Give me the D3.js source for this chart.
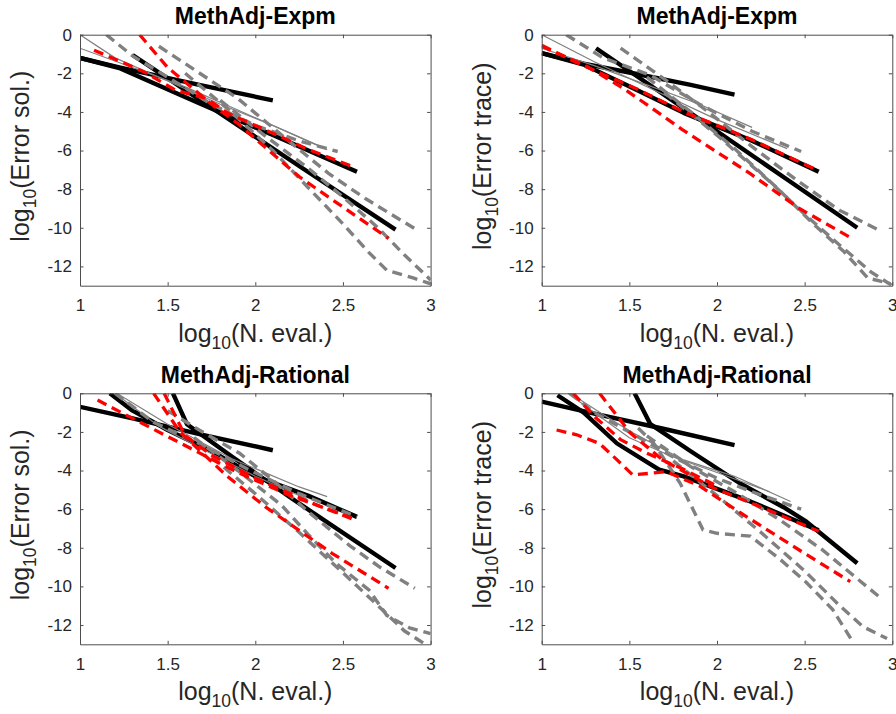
<!DOCTYPE html>
<html>
<head>
<meta charset="utf-8">
<script src="https://cdn.jsdelivr.net/npm/d3@7"></script>
<style>
  body { margin: 0; background: #fff; }
  text { font-family: "Liberation Sans", Arial, Helvetica, sans-serif; }
</style>
</head>
<body>
<div id="chart"></div>
<script>
// ---- DATA: [log10(N. eval.), log10(error)] ----
const xTicks = [1, 1.5, 2, 2.5, 3];
const xTickLabels = ["1", "1.5", "2", "2.5", "3"];
const yTicks = [-12, -10, -8, -6, -4, -2, 0];
const yTickLabels = ["-12", "-10", "-8", "-6", "-4", "-2", "0"];
const titles = ["MethAdj-Expm", "MethAdj-Expm", "MethAdj-Rational", "MethAdj-Rational"];
const yNames = ["Error sol.", "Error trace", "Error sol.", "Error trace"];

// top-left: MethAdj-Expm, error sol.
const solExpmBlack = [
  [[1, -1.2], [1.23, -1.7], [1.68, -2.6], [2.1, -3.4]],
  [[1, -1.2], [1.23, -1.75], [1.68, -3.55], [2.1, -5.2], [2.58, -7.1]],
  [[1.3, -1.05], [1.68, -3.35], [2.25, -6.8], [2.8, -10.1]]
];
const solExpmRed = [
  [[1.08, -0.8], [1.36, -1.9], [1.55, -2.9], [1.72, -3.3], [1.85, -4.1], [2.1, -5.1], [2.29, -5.9], [2.56, -6.85]],
  [[1.34, 0], [1.5, -1.7], [1.62, -2.6], [1.75, -3.6], [1.9, -4.6], [2.25, -7.35], [2.44, -8.55], [2.76, -10.55]]
];
const solExpmThin = [
  [[1, 0], [1.2, -1.2], [1.5, -2.4], [1.8, -3.6], [2.1, -4.7], [2.41, -5.95]],
  [[1, -0.7], [1.3, -1.7], [1.6, -2.7], [1.9, -3.9], [2.2, -5.1], [2.4, -5.9]]
];
const solExpmGray = [
  [[1.15, 0], [1.3, -1.1], [1.5, -2.2], [1.75, -3.6], [2.0, -4.7], [2.25, -5.5], [2.47, -6.05]],
  [[1.45, -0.6], [1.65, -1.8], [1.9, -3.3], [2.15, -5.2], [2.42, -7.2], [2.63, -8.5], [2.92, -10.1]],
  [[1.6, -2.0], [1.85, -3.9], [2.1, -6.0], [2.3, -7.9], [2.5, -9.8], [2.65, -11.3], [2.75, -12.2], [2.9, -12.6], [3.0, -12.9]],
  [[1.8, -3.4], [2.05, -5.2], [2.3, -6.9], [2.5, -8.4], [2.7, -10.0], [2.85, -11.4], [3.0, -12.7]]
];

// top-right: MethAdj-Expm, error trace
const trExpmBlack = [
  [[1, -0.95], [1.24, -1.5], [1.55, -2.05], [1.85, -2.6], [2.1, -3.1]],
  [[1, -0.95], [1.24, -1.55], [1.54, -2.85], [1.81, -4.05], [2.0, -4.75], [2.19, -5.45], [2.58, -7.1]],
  [[1.31, -0.7], [1.6, -2.5], [2.0, -5.0], [2.4, -7.5], [2.8, -10.0]]
];
const trExpmRed = [
  [[1, -0.55], [1.2, -1.45], [1.54, -2.8], [1.81, -4.0], [2.19, -5.4], [2.58, -7.05]],
  [[1, -0.6], [1.25, -1.6], [1.47, -2.8], [1.8, -4.9], [2.19, -7.2], [2.47, -9.0], [2.76, -10.5]]
];
const trExpmThin = [
  [[1, 0], [1.3, -1.4], [1.6, -2.7], [2.0, -4.4], [2.4, -5.9]],
  [[1, -0.7], [1.3, -1.6], [1.6, -2.6], [1.9, -3.6], [2.2, -4.8]]
];
const trExpmGray = [
  [[1.14, 0], [1.35, -1.2], [1.62, -2.1], [1.9, -3.6], [2.2, -5.0], [2.48, -6.05]],
  [[1.45, -0.7], [1.7, -2.3], [1.95, -4.0], [2.2, -5.8], [2.45, -7.5], [2.7, -9.1], [2.92, -10.1]],
  [[1.6, -2.2], [1.85, -4.0], [2.1, -5.9], [2.35, -8.0], [2.55, -9.8], [2.72, -11.2], [2.86, -12.6], [2.99, -12.9]],
  [[1.7, -3.0], [2.0, -5.2], [2.3, -7.6], [2.5, -9.3], [2.7, -10.9], [2.88, -12.3], [3.0, -13.0]]
];

// bottom-left: MethAdj-Rational, error sol.
const solRatBlack = [
  [[1, -0.7], [1.3, -1.3], [1.7, -2.15], [2.1, -2.95]],
  [[1.17, 0], [1.3, -0.9], [1.5, -1.9], [1.75, -3.0], [2.0, -4.3], [2.3, -5.3], [2.58, -6.4]],
  [[1.53, 0], [1.61, -1.6], [1.87, -3.3], [2.2, -5.4], [2.8, -9.05]]
];
const solRatRed = [
  [[1.1, -0.35], [1.3, -1.3], [1.63, -2.85], [1.9, -4.1], [2.2, -5.3], [2.55, -6.45]],
  [[1.42, 0], [1.57, -2.0], [1.84, -4.3], [2.06, -5.9], [2.25, -7.1], [2.44, -8.3], [2.76, -10.1]],
  [[1.48, 0], [1.6, -2.2], [1.75, -3.2], [2.0, -4.4], [2.3, -5.6], [2.55, -6.5]]
];
const solRatThin = [
  [[1.21, 0], [1.5, -1.6], [1.87, -3.4], [2.25, -4.85], [2.41, -5.35]],
  [[1.2, 0], [1.45, -1.7], [1.7, -2.9], [2.0, -4.3], [2.3, -5.5]]
];
const solRatGray = [
  [[1.2, 0], [1.42, -1.5], [1.68, -2.6], [1.95, -3.9], [2.25, -5.2], [2.58, -6.4]],
  [[1.5, -0.9], [1.68, -1.9], [1.91, -3.1], [2.1, -4.5], [2.31, -6.2], [2.54, -7.9], [2.71, -9.0], [2.91, -10.1]],
  [[1.65, -2.3], [1.9, -4.0], [2.15, -5.8], [2.3, -7.3], [2.46, -8.8], [2.65, -10.2], [2.75, -11.5], [2.88, -12.15], [3.0, -12.45]],
  [[1.75, -3.3], [2.0, -5.2], [2.25, -7.2], [2.5, -9.3], [2.7, -11.0], [2.85, -12.3], [2.97, -13.0]]
];

// bottom-right: MethAdj-Rational, error trace
const trRatBlack = [
  [[1, -0.43], [1.3, -1.05], [1.7, -1.85], [2.1, -2.68]],
  [[1.09, -0.1], [1.24, -1.0], [1.43, -2.6], [1.67, -3.95], [1.81, -4.3], [2.19, -5.6], [2.58, -7.1]],
  [[1.53, 0], [1.62, -1.6], [1.85, -3.0], [2.13, -4.66], [2.38, -5.9], [2.51, -6.65], [2.8, -8.8]]
];
const trRatRed = [
  [[1.085, -1.9], [1.2, -2.15], [1.33, -2.6], [1.43, -3.45], [1.52, -4.23], [1.71, -4.06], [1.9, -4.8], [2.17, -6.4], [2.48, -8.18], [2.76, -9.75]],
  [[1.33, 0], [1.505, -2.05], [1.69, -3.45], [1.98, -4.9], [2.2, -5.7], [2.58, -7.15]],
  [[1.18, 0], [1.3, -1.2], [1.45, -2.4], [1.6, -3.1], [1.8, -3.9], [2.0, -4.8]]
];
const trRatThin = [
  [[1.18, -0.1], [1.35, -1.1], [1.52, -2.05], [1.81, -3.45], [2.1, -4.3], [2.42, -5.6]],
  [[1.15, 0], [1.3, -1.0], [1.5, -2.3], [1.75, -3.3], [2.0, -4.1], [2.3, -5.1]]
];
const trRatGray = [
  [[1.16, 0], [1.3, -1.0], [1.5, -2.0], [1.75, -3.3], [2.0, -4.4], [2.2, -5.1], [2.48, -6.0]],
  [[1.55, -1.8], [1.64, -2.6], [1.79, -4.66], [1.92, -7.07], [2.0, -7.25], [2.19, -7.4], [2.36, -8.6], [2.51, -9.8], [2.66, -11.2], [2.78, -12.95]],
  [[1.6, -2.2], [1.85, -3.8], [2.1, -5.1], [2.35, -6.5], [2.6, -8.1], [2.92, -10.5]],
  [[1.75, -3.5], [2.0, -5.3], [2.25, -7.2], [2.5, -9.2], [2.7, -11.0], [2.835, -12.1], [2.97, -12.7]]
];

// ---- LAYOUT ----
const width = 896, height = 714;
const pw = 350.6, ph = 251;
const panels = [
  { left: 80,    top: 34.7,  black: solExpmBlack, red: solExpmRed, thin: solExpmThin, gray: solExpmGray },
  { left: 541.7, top: 34.7,  black: trExpmBlack,  red: trExpmRed,  thin: trExpmThin,  gray: trExpmGray },
  { left: 80,    top: 393.3, black: solRatBlack,  red: solRatRed,  thin: solRatThin,  gray: solRatGray },
  { left: 541.7, top: 393.3, black: trRatBlack,   red: trRatRed,   thin: trRatThin,   gray: trRatGray }
];

const svg = d3.select("#chart").append("svg")
    .attr("width", width)
    .attr("height", height);

const x = d3.scaleLinear().domain([1, 3]).range([0, pw]);
const y = d3.scaleLinear().domain([-13, 0]).range([ph, 0]);
const line = d3.line().x(d => x(d[0])).y(d => y(d[1]));

const axisColor = "#4d4d4d";
const tickColor = "#262626";

panels.forEach((p, i) => {
  const g = svg.append("g").attr("transform", `translate(${p.left},${p.top})`);

  g.append("clipPath").attr("id", "clip" + i)
    .append("rect").attr("width", pw).attr("height", ph);

  const plot = g.append("g").attr("clip-path", `url(#clip${i})`);

  // black solid
  plot.selectAll(".blk").data(p.black).enter().append("path")
    .attr("d", line).attr("fill", "none")
    .attr("stroke", "#000").attr("stroke-width", 4.4)
    .attr("stroke-linejoin", "round");
  // gray thin
  plot.selectAll(".thin").data(p.thin).enter().append("path")
    .attr("d", line).attr("fill", "none")
    .attr("stroke", "#808080").attr("stroke-width", 1.2);
  // gray dashed
  plot.selectAll(".gry").data(p.gray).enter().append("path")
    .attr("d", line).attr("fill", "none")
    .attr("stroke", "#808080").attr("stroke-width", 3.4)
    .attr("stroke-dasharray", "10,6");
  // red dashed
  plot.selectAll(".red").data(p.red).enter().append("path")
    .attr("d", line).attr("fill", "none")
    .attr("stroke", "#ff0000").attr("stroke-width", 3.3)
    .attr("stroke-dasharray", "10,6");

  // axes (ticks pointing inward, box on)
  const styleAxis = a => {
    a.selectAll("path").attr("stroke", axisColor).attr("stroke-width", 1);
    a.selectAll("line").attr("stroke", axisColor);
    a.selectAll("text").attr("fill", tickColor).attr("font-size", 17)
      .attr("font-family", "'Liberation Sans', Arial, sans-serif");
  };
  g.append("g").attr("transform", `translate(0,${ph})`)
    .call(d3.axisBottom(x).tickValues(xTicks).tickSizeInner(-3.5).tickSizeOuter(0)
      .tickPadding(13.5).tickFormat((d, k) => xTickLabels[k]))
    .call(styleAxis);
  g.append("g")
    .call(d3.axisTop(x).tickValues(xTicks).tickSizeInner(-3.5).tickSizeOuter(0).tickFormat(""))
    .call(styleAxis);
  g.append("g")
    .call(d3.axisLeft(y).tickValues(yTicks).tickSizeInner(-3.5).tickSizeOuter(0)
      .tickPadding(8).tickFormat((d, k) => yTickLabels[k]))
    .call(styleAxis);
  g.append("g").attr("transform", `translate(${pw},0)`)
    .call(d3.axisRight(y).tickValues(yTicks).tickSizeInner(-3.5).tickSizeOuter(0).tickFormat(""))
    .call(styleAxis);

  // title
  g.append("text")
    .attr("x", pw / 2).attr("y", -10.5)
    .attr("text-anchor", "middle")
    .attr("font-weight", "bold").attr("font-size", 23)
    .attr("fill", "#000")
    .text(titles[i]);

  // x label: log10(N. eval.)
  const xl = g.append("text")
    .attr("x", pw / 2).attr("y", ph + 56)
    .attr("text-anchor", "middle")
    .attr("font-size", 25).attr("fill", tickColor);
  xl.append("tspan").text("log");
  xl.append("tspan").attr("font-size", 17.5).attr("dy", 7).text("10");
  xl.append("tspan").attr("dy", -7).text("(N. eval.)");

  // y label: log10(Error ...)
  const yl = g.append("text")
    .attr("transform", "rotate(-90)")
    .attr("x", -ph / 2 + 4).attr("y", -51)
    .attr("text-anchor", "middle")
    .attr("font-size", 25).attr("fill", tickColor);
  yl.append("tspan").text("log");
  yl.append("tspan").attr("font-size", 17.5).attr("dy", 7).text("10");
  yl.append("tspan").attr("dy", -7).text("(" + yNames[i] + ")");
});
</script>
</body>
</html>
